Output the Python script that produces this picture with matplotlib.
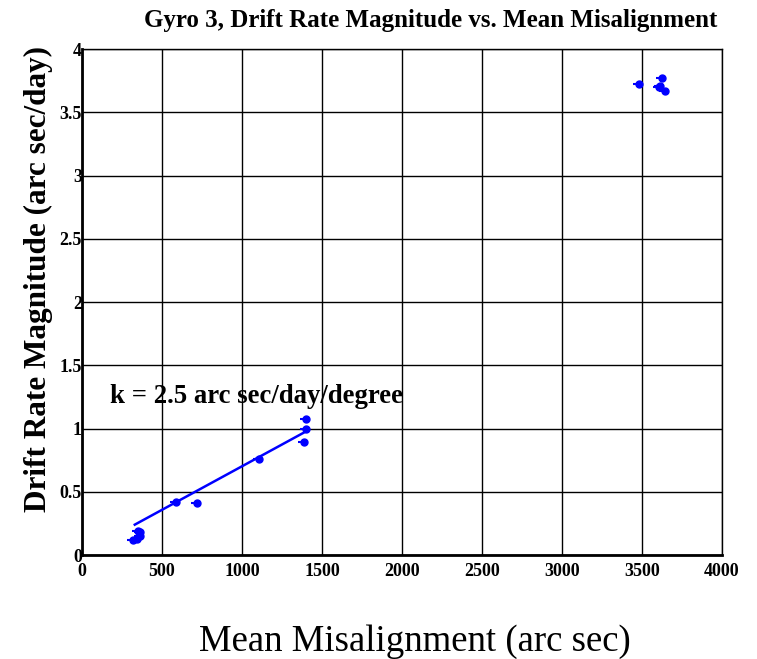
import numpy as np
import matplotlib.pyplot as plt

plt.rcParams['font.family'] = 'Liberation Serif'

# measured points (mean misalignment in arc sec, drift rate in arc sec/day)
mis_x   = [319, 344, 350, 362, 365, 587, 719, 1106, 1388, 1400, 1400,
           3481, 3625, 3606, 3644, 3615]
drift_y = [0.12, 0.13, 0.19, 0.18, 0.15, 0.42, 0.41, 0.76, 0.89, 0.996, 1.075,
           3.72, 3.77, 3.70, 3.67, 3.71]
tail    = [40] * len(mis_x)

# fitted line, k = 2.5 arc sec/day/degree
fit_x = [330, 1390]
fit_y = [0.24, 0.97]

xticks = [0, 500, 1000, 1500, 2000, 2500, 3000, 3500, 4000]
yticks = [0, 0.5, 1, 1.5, 2, 2.5, 3, 3.5, 4]
ylabels = ['0', '0.5', '1', '1.5', '2', '2.5', '3', '3.5', '4']

fig = plt.figure(figsize=[7.57, 6.59], dpi=100)
ax = fig.add_axes([0.1083, 0.1578, 0.8455, 0.7678])

ax.plot(fit_x, fit_y, color='#0000ff', linewidth=1.8, zorder=3)
ax.errorbar(mis_x, drift_y, xerr=[tail, [0] * len(mis_x)], fmt='o',
            color='#0000ff', markersize=5, elinewidth=1.5, capsize=0, zorder=4)

ax.set_xlim(0, 4000)
ax.set_ylim(0, 4)
ax.set_xticks(xticks)
ax.set_yticks(yticks)
ax.set_yticklabels(ylabels)
ax.grid(True, color='black', linewidth=1.0)
ax.set_axisbelow(True)
ax.tick_params(length=0, labelsize=13)
ax.tick_params(axis='y', pad=0)
ax.tick_params(axis='x', pad=6)
for lab in ax.get_xticklabels() + ax.get_yticklabels():
    lab.set_fontweight('bold')
ax.spines['left'].set_linewidth(2)
ax.spines['bottom'].set_linewidth(2)
ax.spines['top'].set_linewidth(1)
ax.spines['right'].set_linewidth(1)

ax.text(175, 1.25, 'k = 2.5 arc sec/day/degree', fontsize=19.3, fontweight='bold',
        va='center', ha='left')

ax.text(0.545, 1.057, 'Gyro 3, Drift Rate Magnitude vs. Mean Misalignment',
        transform=ax.transAxes, fontsize=18, fontweight='bold',
        ha='center', va='center')
ax.set_ylabel('Drift Rate Magnitude (arc sec/day)', fontsize=22.5,
              fontweight='bold', va='center')
ax.yaxis.set_label_coords(-0.068, 0.545)
ax.set_xlabel('Mean Misalignment (arc sec)', fontsize=26.5, va='center')
ax.xaxis.set_label_coords(0.52, -0.172)

plt.savefig('out.png', dpi=100)
plt.close()
